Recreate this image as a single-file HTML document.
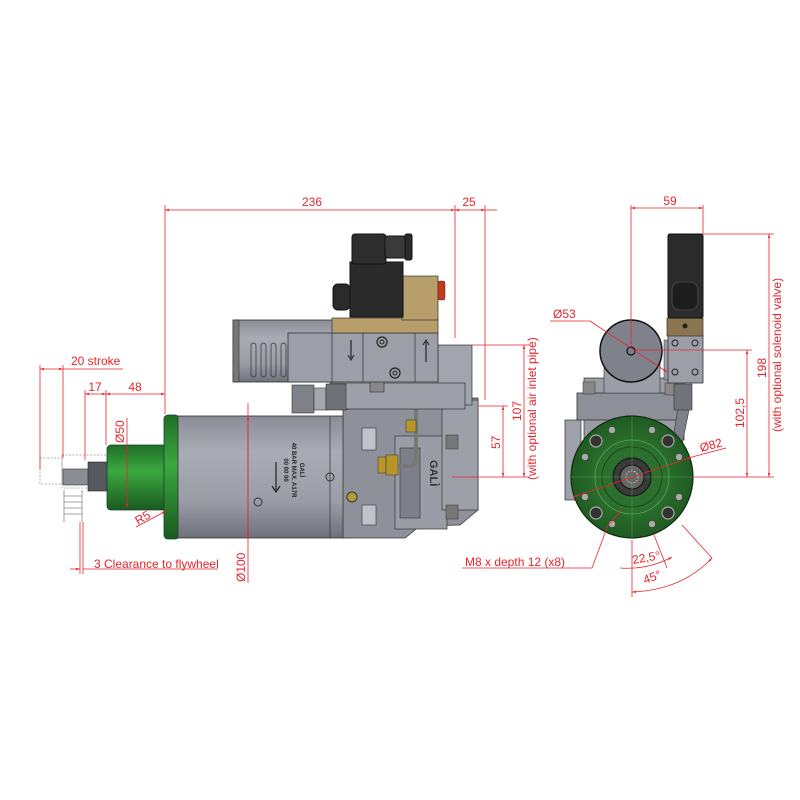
<!DOCTYPE html>
<html><head><meta charset="utf-8"><style>
html,body{margin:0;padding:0;background:#fff;}
svg{display:block;}
text{font-family:"Liberation Sans",Arial,sans-serif;fill:#e8242c;font-size:12px;}
</style></head><body>
<svg width="800" height="800" viewBox="0 0 800 800" xmlns="http://www.w3.org/2000/svg">
<defs>
<linearGradient id="gv" x1="0" y1="0" x2="0" y2="1">
<stop offset="0" stop-color="#8a8d96"/><stop offset="0.3" stop-color="#a9acb5"/><stop offset="0.7" stop-color="#9a9da6"/><stop offset="1" stop-color="#6e717a"/></linearGradient>
<linearGradient id="gg" x1="0" y1="0" x2="0" y2="1">
<stop offset="0" stop-color="#1f6e26"/><stop offset="0.4" stop-color="#3ba83f"/><stop offset="1" stop-color="#1a5a1f"/></linearGradient>
<radialGradient id="gf" cx="0.5" cy="0.5" r="0.5"><stop offset="0" stop-color="#3a8a3a"/><stop offset="1" stop-color="#1f5a22"/></radialGradient>
<marker id="a" viewBox="0 0 10 10" refX="10" refY="5" markerWidth="8" markerHeight="5" orient="auto-start-reverse"><path d="M0,2 L10,5 L0,8 z" fill="#e8242c"/></marker>
</defs>

<!-- ===== SIDE VIEW ===== -->
<!-- dashed pinion ghost -->
<g stroke="#999" stroke-dasharray="2,1.5" fill="none" stroke-width="0.8">
<rect x="40" y="458" width="22" height="26"/><rect x="62" y="455" width="45" height="33"/>
</g>
<g stroke="#888" stroke-width="0.8"><line x1="64" y1="490" x2="64" y2="522"/><line x1="82" y1="490" x2="82" y2="522"/>
<line x1="64" y1="496" x2="82" y2="496"/><line x1="64" y1="502" x2="82" y2="502"/><line x1="64" y1="508" x2="82" y2="508"/><line x1="64" y1="514" x2="82" y2="514"/></g>
<!-- shaft -->
<rect x="63" y="469" width="28" height="16" fill="#8a8d94" stroke="#333" stroke-width="0.6"/>
<rect x="88" y="462" width="19" height="29" fill="#55585e" stroke="#222" stroke-width="0.6"/>
<!-- green nose -->
<rect x="107" y="445" width="60" height="65" rx="4" fill="url(#gg)" stroke="#143" stroke-width="0.8"/>
<!-- green flange -->
<rect x="164" y="415" width="15" height="124" rx="4" fill="url(#gg)" stroke="#143" stroke-width="0.8"/>
<!-- main body -->
<rect x="178" y="416" width="167" height="122" fill="url(#gv)" stroke="#333" stroke-width="0.8"/>
<line x1="330" y1="416" x2="330" y2="538" stroke="#333" stroke-width="0.7"/>
<circle cx="258" cy="502" r="4" fill="none" stroke="#333"/>
<circle cx="330" cy="477" r="4" fill="none" stroke="#333"/>
<g transform="translate(300,470) rotate(90)" ><text x="0" y="0" style="fill:#222;font-size:6px;font-weight:bold" text-anchor="middle">GALÌ</text>
<text x="0" y="8" style="fill:#222;font-size:6px;font-weight:bold" text-anchor="middle">40 BAR MAX. A17R</text>
<text x="0" y="16" style="fill:#222;font-size:6px;font-weight:bold" text-anchor="middle">00 00 00</text></g>
<line x1="276" y1="462" x2="276" y2="490" stroke="#222" stroke-width="1.2"/><path d="M272,486 L276,492 L280,486" fill="none" stroke="#222" stroke-width="1.2"/>
<!-- rear housing -->
<path d="M343,410 L420,398 L478,398 L478,510 L460,525 L420,526 L405,538 L343,538 Z" fill="#8e919a" stroke="#333" stroke-width="0.8"/>
<rect x="395" y="436" width="52" height="93" fill="#9a9da6" stroke="#333" stroke-width="0.7"/>
<rect x="400" y="448" width="20" height="70" fill="#7d8088" stroke="#333" stroke-width="0.6"/>
<rect x="362" y="428" width="14" height="22" fill="#bfc2c8" stroke="#333" stroke-width="0.6"/>
<rect x="362" y="505" width="14" height="20" fill="#bfc2c8" stroke="#333" stroke-width="0.6"/>
<circle cx="352" cy="497" r="5" fill="#b49a3a" stroke="#333"/>
<rect x="442" y="400" width="36" height="110" fill="#9da0a8" stroke="#333" stroke-width="0.7"/>
<rect x="446" y="435" width="12" height="14" fill="#777" stroke="#333" stroke-width="0.5"/>
<rect x="446" y="505" width="12" height="14" fill="#777" stroke="#333" stroke-width="0.5"/>
<text x="430" y="460" transform="rotate(90 430 460)" style="fill:#333;font-size:11px;font-weight:bold">GALÌ</text>
<!-- fittings -->
<rect x="378" y="457" width="8" height="16" fill="#b8952a" stroke="#333" stroke-width="0.5"/>
<rect x="386" y="455" width="12" height="20" fill="#b8952a" stroke="#333" stroke-width="0.5"/>
<path d="M398,466 L410,466 Q416,466 416,458 L416,410 Q416,398 404,398 L370,398" fill="none" stroke="#777" stroke-width="4"/>
<rect x="406" y="420" width="10" height="12" fill="#b8952a" stroke="#333" stroke-width="0.5"/>
<rect x="420" y="387" width="12" height="14" fill="#b8952a" stroke="#333" stroke-width="0.5"/>
<!-- pipe right -->
<rect x="438" y="345" width="34" height="60" fill="#a2a5ad" stroke="#333" stroke-width="0.7"/>
<rect x="330" y="383" width="135" height="26" fill="#9da0a8" stroke="#333" stroke-width="0.7"/>
<!-- fitting chain -->
<rect x="292" y="385" width="22" height="28" fill="#7e8188" stroke="#333" stroke-width="0.6"/>
<rect x="314" y="388" width="12" height="22" fill="#a4a7ad" stroke="#333" stroke-width="0.6"/>
<rect x="326" y="384" width="20" height="26" fill="#6e7178" stroke="#333" stroke-width="0.6"/>
<rect x="370" y="380" width="14" height="12" fill="#888" stroke="#333" stroke-width="0.6"/>
<!-- cylinder -->
<rect x="233" y="320" width="100" height="62" fill="url(#gv)" stroke="#333" stroke-width="0.8"/>
<rect x="233" y="320" width="6" height="62" fill="#777" stroke="#333" stroke-width="0.6"/>
<g fill="none" stroke="#333" stroke-width="0.7">
<rect x="251" y="343" width="5" height="34" rx="2.5"/><rect x="261" y="343" width="5" height="34" rx="2.5"/><rect x="271" y="343" width="5" height="34" rx="2.5"/><rect x="281" y="343" width="5" height="34" rx="2.5"/></g>
<!-- valve block -->
<rect x="288" y="333" width="150" height="49" fill="#9c9fa8" stroke="#333" stroke-width="0.8"/>
<g stroke="#333" stroke-width="0.7"><line x1="332" y1="333" x2="332" y2="382"/><line x1="363" y1="333" x2="363" y2="382"/><line x1="415" y1="333" x2="415" y2="382"/></g>
<circle cx="382" cy="342" r="5" fill="none" stroke="#222" stroke-width="1.2"/><circle cx="382" cy="342" r="2" fill="none" stroke="#222"/>
<circle cx="395" cy="373" r="5" fill="none" stroke="#222" stroke-width="1.2"/><circle cx="395" cy="373" r="2" fill="none" stroke="#222"/>
<line x1="351" y1="340" x2="351" y2="358" stroke="#222" stroke-width="1.2"/><path d="M348,355 L351,360 L354,355" fill="none" stroke="#222"/>
<line x1="426" y1="342" x2="426" y2="362" stroke="#222" stroke-width="1.2"/><path d="M423,345 L426,340 L429,345" fill="none" stroke="#222"/>
<!-- tan -->
<rect x="332" y="318" width="106" height="15" fill="#b79e6a" stroke="#333" stroke-width="0.7"/>
<rect x="402" y="276" width="36" height="44" fill="#b79e6a" stroke="#333" stroke-width="0.7"/>
<rect x="438" y="281" width="7" height="19" rx="2" fill="#c23a1a" stroke="#333" stroke-width="0.5"/>
<!-- solenoid -->
<rect x="333" y="284" width="17" height="26" rx="5" fill="#2b2b2b" stroke="#111"/>
<rect x="350" y="262" width="53" height="55" fill="#2a2a2a" stroke="#111"/>
<rect x="352" y="234" width="34" height="30" rx="3" fill="#2e2e2e" stroke="#111"/>
<rect x="385" y="236" width="22" height="22" rx="3" fill="#3a3a3a" stroke="#111"/>
<rect x="405" y="234" width="7" height="26" rx="2" fill="#2a2a2a" stroke="#111"/>

<!-- ===== FRONT VIEW ===== -->
<rect x="565" y="420" width="16" height="80" fill="#9ea1a9" stroke="#333" stroke-width="0.7"/>
<path d="M584,378 L610,378 L610,393 L652,393 L652,378 L684,378 L684,440 L584,440 Z" fill="#9a9da6" stroke="#333" stroke-width="0.7"/>
<rect x="577" y="393" width="110" height="27" fill="#8d9099" stroke="#333" stroke-width="0.8"/>
<rect x="583" y="382" width="12" height="12" fill="#888" stroke="#333" stroke-width="0.5"/>
<rect x="665" y="383" width="12" height="12" fill="#888" stroke="#333" stroke-width="0.5"/>
<path d="M680,395 L692,395 L676,475 L668,470 Z" fill="#7d8088" stroke="#333" stroke-width="0.6"/>
<rect x="674" y="384" width="18" height="26" fill="#70737a" stroke="#333" stroke-width="0.6"/>
<path d="M604,360 L660,360 L660,393 L604,393 Z" fill="#9b9ea7" stroke="#333" stroke-width="0.6"/>
<circle cx="631" cy="351" r="31" fill="#7f828b" stroke="#111" stroke-width="1.5"/>
<circle cx="631" cy="351" r="4" fill="none" stroke="#111" stroke-width="1.2"/>
<rect x="664" y="340" width="8" height="40" fill="#999ca4" stroke="#333" stroke-width="0.5"/>
<rect x="668" y="335" width="35" height="48" fill="#9c9fa8" stroke="#333" stroke-width="0.8"/>
<g fill="none" stroke="#222" stroke-width="1"><circle cx="675" cy="343" r="3"/><circle cx="695" cy="343" r="3"/><circle cx="675" cy="372" r="3"/><circle cx="695" cy="372" r="3"/></g>
<rect x="667" y="318" width="36" height="18" fill="#8a7550" stroke="#333" stroke-width="0.7"/>
<circle cx="685" cy="326" r="2.5" fill="#222"/>
<rect x="668" y="234" width="35" height="84" rx="2" fill="#2b2b2b" stroke="#111"/>
<rect x="672" y="282" width="26" height="28" rx="8" fill="#1d1d1d" stroke="#444"/>
<!-- flange -->
<circle cx="632" cy="477" r="61" fill="url(#gf)" stroke="#0e2a10" stroke-width="1.2"/>
<circle cx="632" cy="477" r="37" fill="none" stroke="#5aa05a" stroke-width="0.8"/>
<circle cx="632" cy="477" r="30" fill="#2c6f2e" stroke="#1a4a1b"/>
<circle cx="632" cy="477" r="19" fill="#3a3a3a" stroke="#111"/>
<circle cx="632" cy="477" r="12" fill="#666" stroke="#111"/>
<circle cx="632" cy="477" r="6" fill="none" stroke="#ddd" stroke-width="0.8" stroke-dasharray="1.5,1.5"/>
<g fill="#333" stroke="#aaa" stroke-width="1.2">
<circle cx="596" cy="441" r="6"/><circle cx="668" cy="441" r="6"/><circle cx="596" cy="513" r="6"/><circle cx="668" cy="513" r="6"/></g>
<g fill="#aaa" stroke="#333" stroke-width="0.5">
<circle cx="612" cy="430" r="3.5"/><circle cx="652" cy="430" r="3.5"/><circle cx="585" cy="457" r="3.5"/><circle cx="679" cy="457" r="3.5"/>
<circle cx="585" cy="497" r="3.5"/><circle cx="679" cy="497" r="3.5"/><circle cx="612" cy="524" r="3.5"/><circle cx="652" cy="524" r="3.5"/></g>
<line x1="632" y1="416" x2="632" y2="538" stroke="#6a6" stroke-width="0.4"/>
<line x1="571" y1="477" x2="693" y2="477" stroke="#6a6" stroke-width="0.4"/>

<!-- ===== DIMENSIONS ===== -->
<g stroke="#e8242c" stroke-width="0.8" fill="none">
<!-- side -->
<line x1="165" y1="205" x2="165" y2="414"/>
<line x1="455" y1="205" x2="455" y2="338"/>
<line x1="485" y1="205" x2="485" y2="400"/>
<line x1="165" y1="210" x2="455" y2="210" marker-start="url(#a)" marker-end="url(#a)"/>
<line x1="455" y1="210" x2="485" y2="210" marker-start="url(#a)" marker-end="url(#a)"/>
<line x1="485" y1="210" x2="497" y2="210"/>
<!-- 20 stroke -->
<line x1="40" y1="365" x2="40" y2="470"/><line x1="63" y1="365" x2="63" y2="458"/>
<line x1="40" y1="369" x2="63" y2="369" marker-start="url(#a)" marker-end="url(#a)"/>
<line x1="63" y1="369" x2="123" y2="369"/>
<!-- 17 48 -->
<line x1="85" y1="390" x2="85" y2="460"/><line x1="106" y1="390" x2="106" y2="445"/>
<line x1="85" y1="394" x2="106" y2="394" marker-start="url(#a)" marker-end="url(#a)"/>
<line x1="106" y1="394" x2="165" y2="394" marker-start="url(#a)" marker-end="url(#a)"/>
<!-- Ø50 -->
<line x1="127" y1="447" x2="127" y2="508" marker-start="url(#a)" marker-end="url(#a)"/>
<line x1="127" y1="418" x2="127" y2="447"/>
<!-- R5 -->
<line x1="136" y1="527" x2="166" y2="511" marker-end="url(#a)"/>
<!-- clearance -->
<line x1="80" y1="522" x2="80" y2="574"/><line x1="83" y1="522" x2="83" y2="574"/>
<line x1="70" y1="569" x2="80" y2="569" marker-end="url(#a)"/>
<line x1="83" y1="569" x2="218" y2="569"/>
<!-- Ø100 -->
<line x1="248" y1="403" x2="248" y2="583"/>
<line x1="248" y1="416" x2="248" y2="538" marker-start="url(#a)" marker-end="url(#a)"/>
<!-- 57 107 -->
<line x1="478" y1="406" x2="508" y2="406"/>
<line x1="452" y1="477" x2="530" y2="477"/>
<line x1="472" y1="345" x2="530" y2="345"/>
<line x1="503" y1="406" x2="503" y2="477" marker-start="url(#a)" marker-end="url(#a)"/>
<line x1="524" y1="345" x2="524" y2="477" marker-start="url(#a)" marker-end="url(#a)"/>
<!-- M8 -->
<line x1="462" y1="568" x2="592" y2="568"/>
<line x1="592" y1="568" x2="608" y2="525"/>
<line x1="608" y1="525" x2="622" y2="510"/>
<!-- front 59 -->
<line x1="631" y1="205" x2="631" y2="345"/>
<line x1="703" y1="205" x2="703" y2="234"/>
<line x1="631" y1="208" x2="703" y2="208" marker-start="url(#a)" marker-end="url(#a)"/>
<!-- 198 -->
<line x1="703" y1="234" x2="774" y2="234"/>
<line x1="693" y1="477" x2="774" y2="477"/>
<line x1="635" y1="350" x2="752" y2="350"/>
<line x1="769" y1="234" x2="769" y2="477" marker-start="url(#a)" marker-end="url(#a)"/>
<line x1="747" y1="350" x2="747" y2="477" marker-start="url(#a)" marker-end="url(#a)"/>
<!-- Ø53 -->
<line x1="550" y1="321" x2="590" y2="321"/>
<line x1="590" y1="321" x2="667" y2="372" marker-end="url(#a)"/>
<!-- Ø82 -->
<line x1="573" y1="497" x2="692" y2="457" marker-start="url(#a)" marker-end="url(#a)"/>
<line x1="692" y1="457" x2="726" y2="448"/>
<!-- angles -->
<line x1="632" y1="540" x2="632" y2="597"/>
<line x1="654" y1="535" x2="667" y2="568"/>
<line x1="682" y1="525" x2="712" y2="558"/>
<path d="M620,568 Q648,570 672,557" marker-end="url(#a)"/>
<path d="M632,592 Q682,590 712,558" marker-start="url(#a)" marker-end="url(#a)"/>
</g>
<g>
<text x="312" y="206" text-anchor="middle">236</text>
<text x="469" y="206" text-anchor="middle">25</text>
<text x="71" y="365">20 stroke</text>
<text x="95" y="391" text-anchor="middle">17</text>
<text x="135" y="391" text-anchor="middle">48</text>
<text x="124" y="443" transform="rotate(-90 124 443)">Ø50</text>
<text x="138" y="525" transform="rotate(-30 138 525)">R5</text>
<text x="94" y="568">3 Clearance to flywheel</text>
<text x="245" y="582" transform="rotate(-90 245 582)">Ø100</text>
<text x="500" y="449" transform="rotate(-90 500 449)">57</text>
<text x="521" y="421" transform="rotate(-90 521 421)">107</text>
<text x="536" y="480" transform="rotate(-90 536 480)">(with optional air inlet pipe)</text>
<text x="465" y="566">M8 x depth 12 (x8)</text>
<text x="670" y="205" text-anchor="middle">59</text>
<text x="553" y="318">Ø53</text>
<text x="701" y="452" transform="rotate(-15 701 452)">Ø82</text>
<text x="744" y="428" transform="rotate(-90 744 428)">102,5</text>
<text x="766" y="378" transform="rotate(-90 766 378)">198</text>
<text x="781" y="432" transform="rotate(-90 781 432)">(with optional solenoid valve)</text>
<text x="633" y="564" transform="rotate(-10 633 564)">22,5°</text>
<text x="645" y="584" transform="rotate(-20 645 584)">45°</text>
</g>
</svg>
</body></html>
